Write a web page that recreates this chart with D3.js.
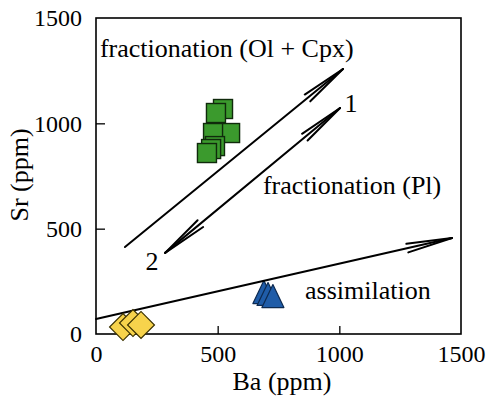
<!DOCTYPE html>
<html><head><meta charset="utf-8">
<script src="https://cdn.jsdelivr.net/npm/d3@7"></script>
<style>html,body{margin:0;padding:0;background:#fff;}svg{display:block;}</style>
</head><body>
<script>
// ---- data ----
const xTicks = [0, 500, 1000, 1500];
const yTicks = [0, 500, 1000, 1500];
const squaresBa = [522, 493, 551, 481, 489, 473, 456];
const squaresSr = [1068, 1049, 954, 954, 892, 878, 859];
const trianglesBa = [690, 707, 727];
const trianglesSr = [199, 190, 180];
const diamondsBa = [111, 152, 185];
const diamondsSr = [33, 52, 43];
// trend arrows: [Ba0, Sr0, Ba1, Sr1]
const arrowOlCpx = [119, 413, 1015, 1258];
const arrowPl = [284, 385, 1003, 1073];
const arrowAssim = [0, 71, 1463, 456];
const labelTexts = ["fractionation (Ol + Cpx)", "1", "2", "fractionation (Pl)", "assimilation"];
const labelBa = [16, 1048, 230, 686, 859];
const labelSr = [1315, 1054, 304, 665, 166];
const labelAnchor = ["start", "middle", "middle", "start", "start"];

const W = 491, H = 398;
const font = "'Liberation Serif','Times New Roman',serif";
const x = d3.scaleLinear().domain([0, 1500]).range([96, 461]);
const y = d3.scaleLinear().domain([0, 1500]).range([334, 18]);

const svg = d3.select("body").append("svg").attr("width", W).attr("height", H);

// axes
const gx = svg.append("g").attr("transform", `translate(0,${y(0)})`)
  .call(d3.axisBottom(x).tickValues(xTicks).tickFormat(d3.format("d"))
    .tickSizeInner(-8).tickSizeOuter(0).tickPadding(11));
const gy = svg.append("g").attr("transform", `translate(${x(0)},0)`)
  .call(d3.axisLeft(y).tickValues(yTicks).tickFormat(d3.format("d"))
    .tickSizeInner(-9).tickSizeOuter(0).tickPadding(14));
[gx, gy].forEach(g => {
  g.select(".domain").remove();
  g.selectAll("line").attr("stroke", "#000").attr("stroke-width", 1.3);
  g.selectAll("text").attr("font-family", font).attr("font-size", 24).attr("fill", "#000");
  g.selectAll(".tick").filter(d => d === 0 || d === 1500).select("line").remove();
});

svg.append("rect").attr("x", x(0)).attr("y", y(1500))
  .attr("width", x(1500) - x(0)).attr("height", y(0) - y(1500))
  .attr("fill", "none").attr("stroke", "#000").attr("stroke-width", 1.6);

svg.append("text").attr("x", 282).attr("y", 390).attr("text-anchor", "middle")
  .attr("font-family", font).attr("font-size", 26).text("Ba (ppm)");
svg.append("text").attr("transform", "translate(28,175) rotate(-90)").attr("text-anchor", "middle")
  .attr("font-family", font).attr("font-size", 26).text("Sr (ppm)");

// triangles (under the assimilation line)
const triW = 22, triH = 23;
svg.append("g").selectAll("path").data(trianglesBa.map((b, i) => [b, trianglesSr[i]]))
  .join("path")
  .attr("d", d => {
    const cx = x(d[0]), cy = y(d[1]);
    return `M${cx},${cy - triH / 2}L${cx + triW / 2},${cy + triH / 2}L${cx - triW / 2},${cy + triH / 2}Z`;
  })
  .attr("fill", "#1f5ca8").attr("stroke", "#0d2a50").attr("stroke-width", 1.2)
  .attr("stroke-linejoin", "round");

// arrows
function arrowHead(g, tx, ty, fx, fy) {
  const ang = Math.atan2(ty - fy, tx - fx);
  const L = 46, spread = 0.095;
  [-1, 1].forEach(s => {
    const a = ang + Math.PI + s * spread;
    g.append("line").attr("x1", tx).attr("y1", ty)
      .attr("x2", tx + L * Math.cos(a)).attr("y2", ty + L * Math.sin(a));
  });
}
function drawArrow(a, startHead) {
  const g = svg.append("g").attr("stroke", "#000").attr("stroke-width", 2).attr("stroke-linecap", "round");
  const x0 = x(a[0]), y0 = y(a[1]), x1 = x(a[2]), y1 = y(a[3]);
  g.append("line").attr("x1", x0).attr("y1", y0).attr("x2", x1).attr("y2", y1);
  arrowHead(g, x1, y1, x0, y0);
  if (startHead) arrowHead(g, x0, y0, x1, y1);
}
drawArrow(arrowOlCpx, false);
drawArrow(arrowPl, true);
drawArrow(arrowAssim, false);

// diamonds
const dS = 19;
svg.append("g").selectAll("rect").data(diamondsBa.map((b, i) => [b, diamondsSr[i]]))
  .join("rect")
  .attr("x", -dS / 2).attr("y", -dS / 2).attr("width", dS).attr("height", dS)
  .attr("transform", d => `translate(${x(d[0])},${y(d[1])}) rotate(45)`)
  .attr("fill", "#f7d34c").attr("stroke", "#3a3000").attr("stroke-width", 1.2);

// squares
const sS = 19;
svg.append("g").selectAll("rect").data(squaresBa.map((b, i) => [b, squaresSr[i]]))
  .join("rect")
  .attr("x", d => x(d[0]) - sS / 2).attr("y", d => y(d[1]) - sS / 2)
  .attr("width", sS).attr("height", sS)
  .attr("fill", "#3b9a2d").attr("stroke", "#102a0c").attr("stroke-width", 1.4);

// labels
svg.append("g").selectAll("text").data(labelTexts).join("text")
  .attr("x", (d, i) => x(labelBa[i])).attr("y", (d, i) => y(labelSr[i]))
  .attr("text-anchor", (d, i) => labelAnchor[i])
  .attr("font-family", font).attr("font-size", 26).attr("fill", "#000")
  .text(d => d);
</script>
</body></html>
